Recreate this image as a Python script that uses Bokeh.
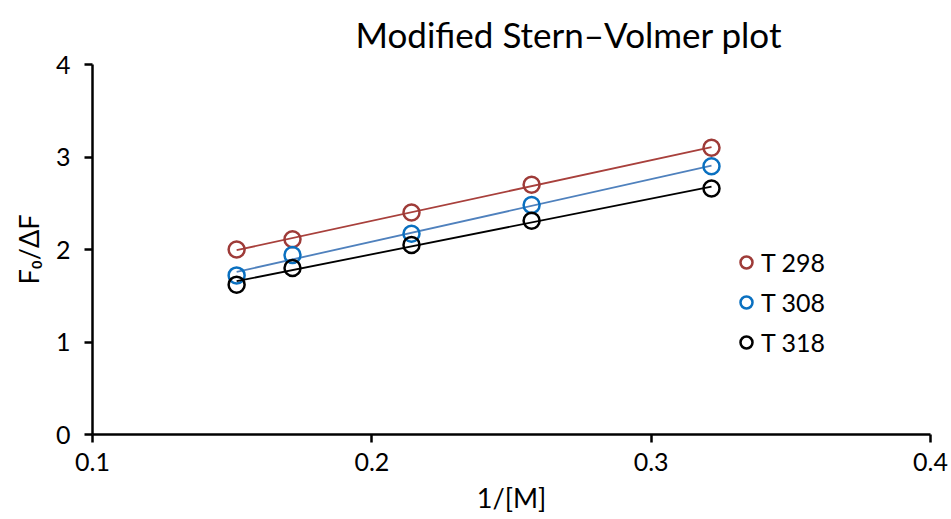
import numpy as np
from bokeh.plotting import figure
from bokeh.models import Range1d, FixedTicker, Legend, LegendItem
from bokeh.embed import file_html
from bokeh.resources import INLINE

x_vals = [0.1516, 0.1716, 0.2142, 0.2572, 0.3216]
t298 = [2.00, 2.11, 2.40, 2.70, 3.10]
t308 = [1.72, 1.94, 2.17, 2.48, 2.90]
t318 = [1.62, 1.80, 2.05, 2.31, 2.66]
series_names = ["T 298", "T 308", "T 318"]
x_ticks = [0.1, 0.2, 0.3, 0.4]
y_ticks = [0, 1, 2, 3, 4]

marker_colors = ["#9e3b38", "#0a70c0", "#000000"]
line_colors = ["#a8403c", "#4f81bd", "#000000"]
FONT = "Lato"

p = figure(width=951, height=519, output_backend="svg", toolbar_location=None,
           x_range=Range1d(0.1, 0.4), y_range=Range1d(0, 4),
           min_border_left=92, min_border_right=21, min_border_top=64, min_border_bottom=85,
           title="Modified Stern\u2013Volmer plot")
p.outline_line_color = None
p.grid.visible = False
p.background_fill_color = "white"
p.border_fill_color = "white"

p.title.text_font = FONT
p.title.text_font_size = "35px"
p.title.text_font_style = "normal"
p.title.text_color = "black"
p.title.align = "left"
p.title.offset = 263
p.title.standoff = 20

for ax in (p.xaxis[0], p.yaxis[0]):
    ax.axis_line_width = 2.5
    ax.axis_line_color = "black"
    ax.major_tick_line_width = 2.5
    ax.major_tick_line_color = "black"
    ax.major_tick_out = 8
    ax.major_tick_in = 0
    ax.minor_tick_line_color = None
    ax.major_label_text_font = FONT
    ax.major_label_text_font_size = "25px"
    ax.major_label_text_color = "black"
    ax.axis_label_text_font = FONT
    ax.axis_label_text_font_size = "27px"
    ax.axis_label_text_font_style = "normal"
    ax.axis_label_text_color = "black"

p.xaxis.ticker = FixedTicker(ticks=x_ticks)
p.yaxis.ticker = FixedTicker(ticks=y_ticks)
p.xaxis.axis_label = "1/[M]"
p.yaxis.axis_label = "F\u2080/\u0394F"
p.xaxis.major_label_standoff = 10
p.xaxis.axis_label_standoff = 7
p.yaxis.major_label_standoff = 14
p.yaxis.axis_label_standoff = 8

items = []
xa = np.array(x_vals)
for name, ys, mc, lc in zip(series_names, [t298, t308, t318], marker_colors, line_colors):
    k, b = np.polyfit(xa, np.array(ys), 1)
    xs_fit = [x_vals[0], x_vals[-1]]
    p.line(xs_fit, [k * v + b for v in xs_fit], line_color=lc, line_width=1.8)
    r = p.scatter(x_vals, ys, marker="circle", size=16, fill_color=None,
                  line_color=mc, line_width=2.5)
    items.append(LegendItem(label=name, renderers=[r]))

legend = Legend(items=items, location=(639, 77), orientation="vertical",
                background_fill_alpha=0, border_line_color=None,
                label_text_font=FONT, label_text_font_size="25px", label_text_color="black",
                glyph_width=30, glyph_height=30, label_standoff=0,
                spacing=10, padding=0, margin=0, label_height=26)
p.add_layout(legend, "center")

open("out.html", "w").write(file_html(p, INLINE))
